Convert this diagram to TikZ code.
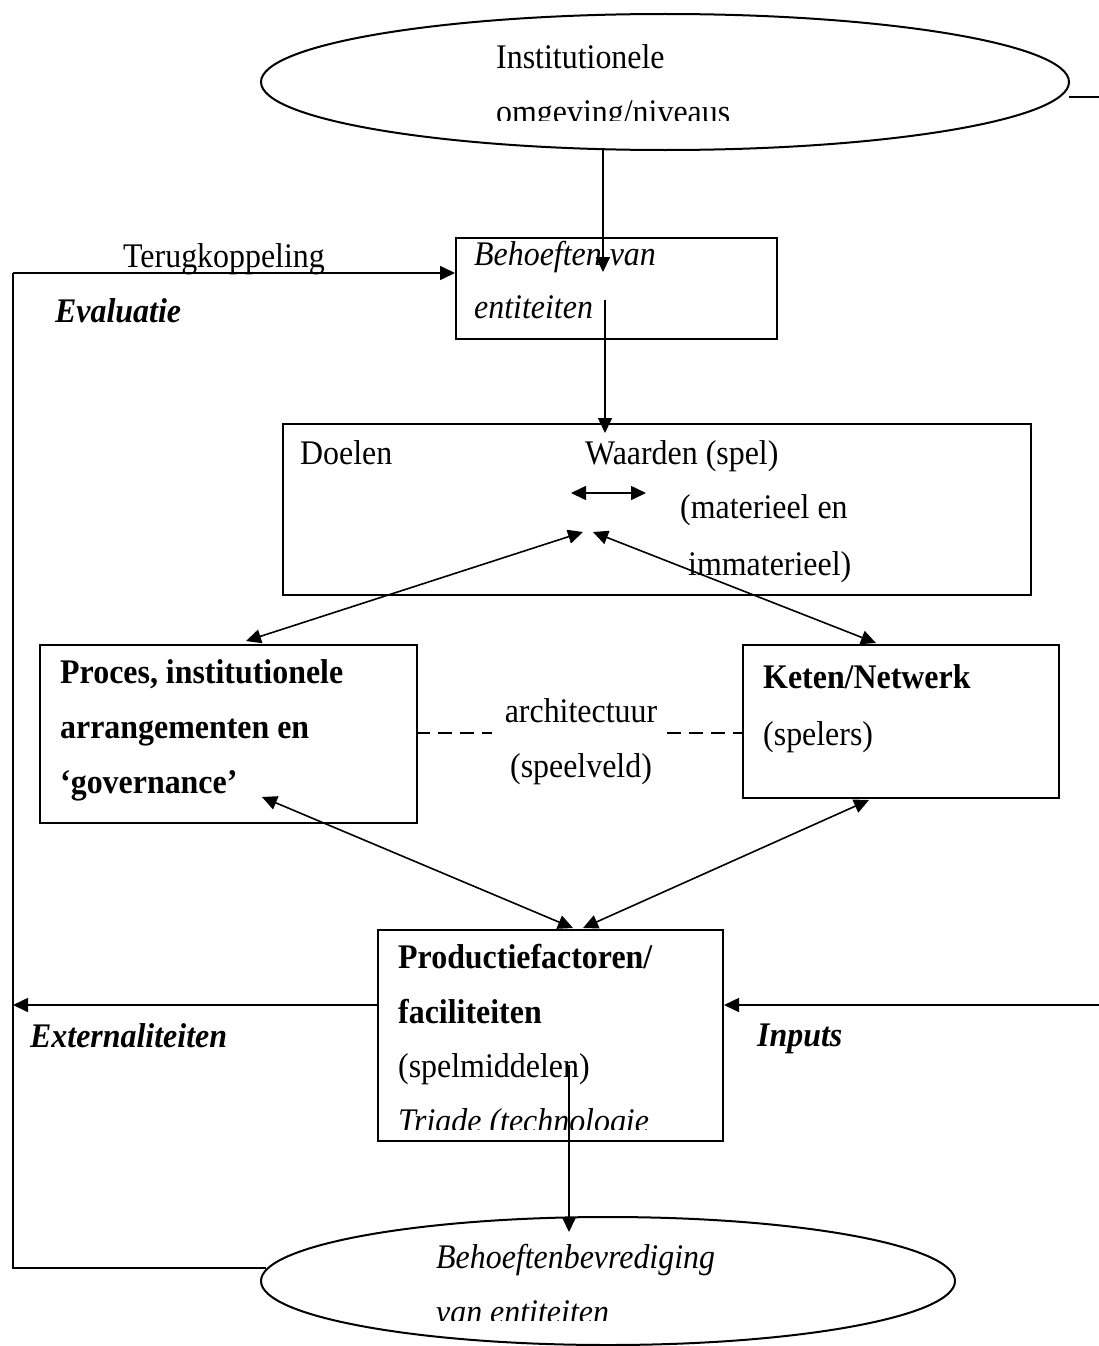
\documentclass[tikz,border=0pt]{standalone}
\usepackage{fontspec}
\setmainfont[FakeStretch=0.925]{Liberation Serif}
\usetikzlibrary{arrows.meta,shapes.geometric}
\begin{document}
\begin{tikzpicture}[x=1pt,y=-1pt,
  box/.style={draw,line width=2pt,inner sep=0pt},
  tip/.tip={Triangle[length=15pt,width=14pt]},
  arr/.style={line width=1.6pt,-tip},
  darr/.style={line width=1.6pt,tip-tip},
  plain/.style={line width=1.8pt},
  dashline/.style={line width=1.8pt,dash pattern=on 14pt off 8pt},
  txt/.style={anchor=base west,inner sep=0pt,font=\fontsize{34.5}{40}\selectfont},
  ctxt/.style={anchor=base,inner sep=0pt,font=\fontsize{34.5}{40}\selectfont},
  ell/.style={draw,ellipse,line width=2pt,inner sep=0pt}]
\useasboundingbox (0,0) rectangle (1099,1346);

% ---- shapes ----
\node[ell,minimum width=808pt,minimum height=136pt] (inst) at (665,82) {};
\node[box,minimum width=321pt,minimum height=101pt,anchor=north west] (beh) at (455,237) {};
\node[box,minimum width=748pt,minimum height=171pt,anchor=north west] (doel) at (282,423) {};
\node[box,minimum width=377pt,minimum height=178pt,anchor=north west] (proc) at (39,644) {};
\node[box,minimum width=316pt,minimum height=153pt,anchor=north west] (keten) at (742,644) {};
\node[box,minimum width=345pt,minimum height=211pt,anchor=north west] (prod) at (377,929) {};
\node[ell,minimum width=694pt,minimum height=128pt] (bevr) at (608,1281) {};

% ---- texts ----
\node[txt] (t1) at (496,69) {Institutionele};
\begin{scope}
\clip (400,0) rectangle (1000,120);
\node[txt] (t2) at (496,123) {omgeving/niveaus};
\end{scope}
\node[txt] (tb1) at (474,265) {\itshape Behoeften van};
\node[txt] (tb2) at (474,318) {\itshape entiteiten};
\node[txt] (terug) at (123,267) {Terugkoppeling};
\node[txt] (eval) at (55,322) {\bfseries\itshape Evaluatie};
\node[txt] (td) at (300,464) {Doelen};
\node[txt] (tw) at (585,464) {Waarden (spel)};
\node[txt] (tm1) at (680,518) {(materieel en};
\node[txt] (tm2) at (688,575) {immaterieel)};
\node[txt] (tp1) at (60,683) {\bfseries Proces, institutionele};
\node[txt] (tp2) at (60,738) {\bfseries arrangementen en};
\node[txt] (tp3) at (60,793) {\bfseries `governance'};
\node[txt] (tk1) at (763,688) {\bfseries Keten/Netwerk};
\node[txt] (tk2) at (763,745) {(spelers)};
\node[ctxt] (ta1) at (581,722) {architectuur};
\node[ctxt] (ta2) at (581,777) {(speelveld)};
\node[txt] (tf1) at (398,968) {\bfseries Productiefactoren/};
\node[txt] (tf2) at (398,1023) {\bfseries faciliteiten};
\node[txt] (tf3) at (398,1077) {(spelmiddelen)};
\begin{scope}
\clip (380,1090) rectangle (720,1129);
\node[txt] (tf4) at (398,1132) {\itshape Triade (technologie};
\end{scope}
\node[txt] (text) at (30,1047) {\bfseries\itshape Externaliteiten};
\node[txt] (tin) at (757,1046) {\bfseries\itshape Inputs};
\node[txt] (tbv1) at (436,1268) {\itshape Behoeftenbevrediging};
\begin{scope}
\clip (400,1285) rectangle (900,1320);
\node[txt] (tbv2) at (436,1323) {\itshape van entiteiten};
\end{scope}

% ---- coordinates ----
\coordinate (c1) at (603,149);
\coordinate (c2) at (603,272);
\coordinate (c3) at (605,300);
\coordinate (c4) at (605,433);
\coordinate (c5) at (571,493);
\coordinate (c6) at (646,493);
\coordinate (c7) at (583,532);
\coordinate (c8) at (593,532);
\coordinate (c9) at (262,797);
\coordinate (c10) at (869,800);
\coordinate (c11) at (573,928);
\coordinate (c12) at (583,928);
\coordinate (c13) at (246,641);
\coordinate (c14) at (876,643);
\coordinate (lt) at (13,273);
\coordinate (lb) at (13,1268);
\coordinate (le) at (13,1005);
\coordinate (re) at (1099,1005);
\coordinate (rt) at (1099,97);
\coordinate (ir) at (1069,97);
\coordinate (bl) at (266,1268);
\coordinate (d1) at (569,1065);
\coordinate (d2) at (569,1232);
\coordinate (da) at (416,733);
\coordinate (db) at (492,733);
\coordinate (dc) at (667,733);
\coordinate (dd) at (742,733);

% ---- connectors ----
\draw[arr] (c1) -- (c2);
\draw[arr] (c3) -- (c4);
\draw[plain] (bl) -- (lb) -- (lt);
\draw[arr] (lt) -- (lt -| beh.west);
\draw[darr] (c5) -- (c6);
\draw[darr] (c7) -- (c13);
\draw[darr] (c8) -- (c14);
\draw[darr] (c9) -- (c11);
\draw[darr] (c10) -- (c12);
\draw[dashline] (da) -- (db);
\draw[dashline] (dc) -- (dd);
\draw[arr] (le -| prod.west) -- (le);
\draw[arr] (re) -- (re -| prod.east);
\draw[plain] (ir) -- (rt);
\draw[arr] (d1) -- (d2);
\end{tikzpicture}
\end{document}
